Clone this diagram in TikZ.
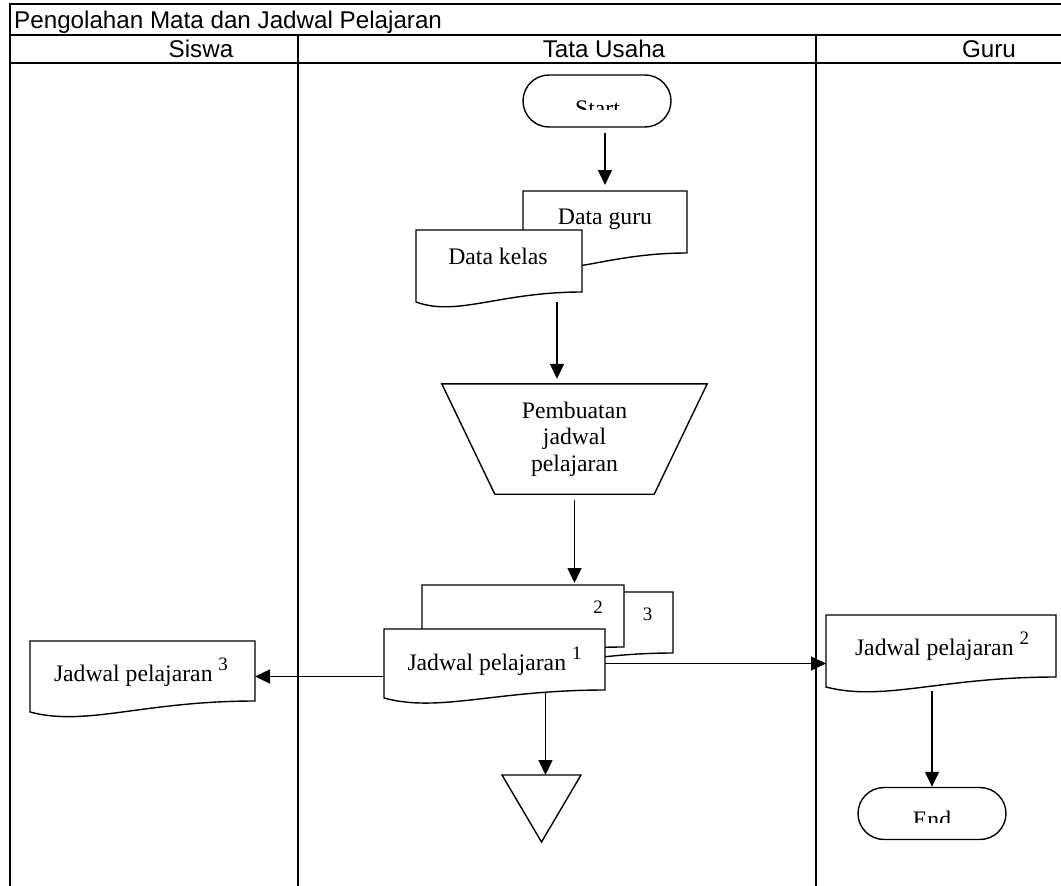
\documentclass[tikz,border=0pt]{standalone}
\usepackage{fontspec}
\setmainfont{Liberation Serif}
\newfontfamily\lanefont{Liberation Sans}
\usetikzlibrary{arrows.meta,shapes.misc,calc}

% document symbol: name, left x, top y, right x, bottom y at the right edge, bottom y at the left edge
\newcommand\docshape[6]{%
  \node[area, minimum width={(#4-#2)*1pt}, minimum height={(#6-#3)*1pt}] (#1) at (#2,#3) {};
  \draw[shapeline, fill=white] (#1.north west) -- (#1.north east) -- (#4,#5)
    .. controls ({#4-0.5*(#4-#2)},#5) and ({#2+0.25*(#4-#2)},{#6+15}) .. (#1.south west) -- cycle;
}
\newcommand\supnum[1]{\raisebox{11pt}{\fontsize{19}{19}\selectfont #1}}

\begin{document}
\begin{tikzpicture}[x=1pt,y=-1pt,
  frameline/.style={line width=2pt},
  shapeline/.style={draw=black, line width=1.4pt},
  arr/.style={line width=1.4pt, -{Triangle[length=15pt,width=14pt]}},
  lanetext/.style={font=\lanefont\fontsize{24.2}{26}\selectfont, inner sep=0, anchor=base},
  bodytext/.style={font=\fontsize{23.7}{26.5}\selectfont, inner sep=0, anchor=base, align=center},
  smalltext/.style={font=\fontsize{19}{19}\selectfont, inner sep=0, anchor=base},
  terminal/.style={rounded rectangle, shapeline, minimum width=148pt, minimum height=52pt, inner sep=0},
  area/.style={inner sep=0, outer sep=0, anchor=north west},
]
\useasboundingbox (0,0) rectangle (1061,886);

% swimlane frame
\draw[frameline] (1061,4) -- (10,4) -- (10,886);
\draw[frameline] (10,35) -- (1061,35);
\draw[frameline] (10,63) -- (1061,63);
\draw[frameline] (298,35) -- (298,886);
\draw[frameline] (815.5,35) -- (815.5,886);
\node[lanetext, anchor=base west] (title) at (14,28) {Pengolahan Mata dan Jadwal Pelajaran};
\node[lanetext] (lane-siswa) at (201,57) {Siswa};
\node[lanetext] (lane-tu) at (604,57) {Tata Usaha};
\node[lanetext] (lane-guru) at (989,57) {Guru};

% start terminal
\node[terminal] (start) at (597,101) {};
\begin{scope}
  \clip (start.west |- start.north) rectangle ([yshift=-8pt]start.east);
  \node[bodytext] (start-t) at (597.5,116) {Start};
\end{scope}

% input documents
\docshape{dguru}{523}{191}{687}{253}{264}
\node[bodytext] (dguru-t) at (605,224) {Data guru};
\docshape{dkelas}{416}{230}{582}{292}{302}
\node[bodytext] (dkelas-t) at (498,264) {Data kelas};

% manual operation
\node[inner sep=0, minimum width=265pt, minimum height=110pt, align=center,
      font=\fontsize{23.7}{26.5}\selectfont] (proc) at (574.5,439) {Pembuatan\\jadwal\\pelajaran};
\draw[shapeline] (proc.north west) -- (proc.north east) -- ([xshift=-53pt]proc.south east)
  -- ([xshift=53pt]proc.south west) -- cycle;

% schedule copies
\docshape{jdC}{471}{592}{673}{653}{663}
\node[smalltext] (jdC-t) at (647.5,620) {3};
\docshape{jdB}{422}{585}{624}{647}{657}
\node[smalltext] (jdB-t) at (598,613) {2};
\docshape{jdA}{384}{629}{605}{690}{698}
\node[bodytext] (jdA-t) at (494.5,670) {Jadwal pelajaran \supnum{1}};

\docshape{j3}{30}{641}{255}{701}{712}
\node[bodytext] (j3-t) at (141,681) {Jadwal pelajaran \supnum{3}};
\docshape{j2}{826}{615}{1056}{677}{687}
\node[bodytext] (j2-t) at (942,655) {Jadwal pelajaran \supnum{2}};

% archive
\node[area, minimum width=79pt, minimum height=67pt] (store) at (502,775) {};
\draw[shapeline] (store.north west) -- (store.north east) -- (store.south) -- cycle;

% end terminal
\node[terminal] (finish) at (932,813.5) {};
\begin{scope}
  \clip (finish.west |- finish.north) rectangle ([yshift=-8.5pt]finish.east);
  \node[bodytext] (finish-t) at (932,827.6) {End};
\end{scope}

% flow
\draw[arr, shorten <=5pt, shorten >=6pt] (start.south -| dguru.north) -- (dguru.north);
\draw[arr, shorten >=5pt] ([xshift=58pt]dkelas.south) -- ([xshift=58pt]dkelas.south |- proc.north);
\draw[arr, shorten <=6pt, shorten >=2pt] (proc.south) -- (proc.south |- jdB.north);
\draw[arr] (j3.east -| jdA.west) -- (j3.east);
\draw[arr] (jdA.east) -- (jdA.east -| j2.west);
\draw[arr] ($(store.north |- jdA.south)+(4,-5)$) -- ($(store.north)+(4,0)$);
\draw[arr, shorten <=4pt] (finish.north |- j2.south) -- (finish.north);
\end{tikzpicture}
\end{document}
